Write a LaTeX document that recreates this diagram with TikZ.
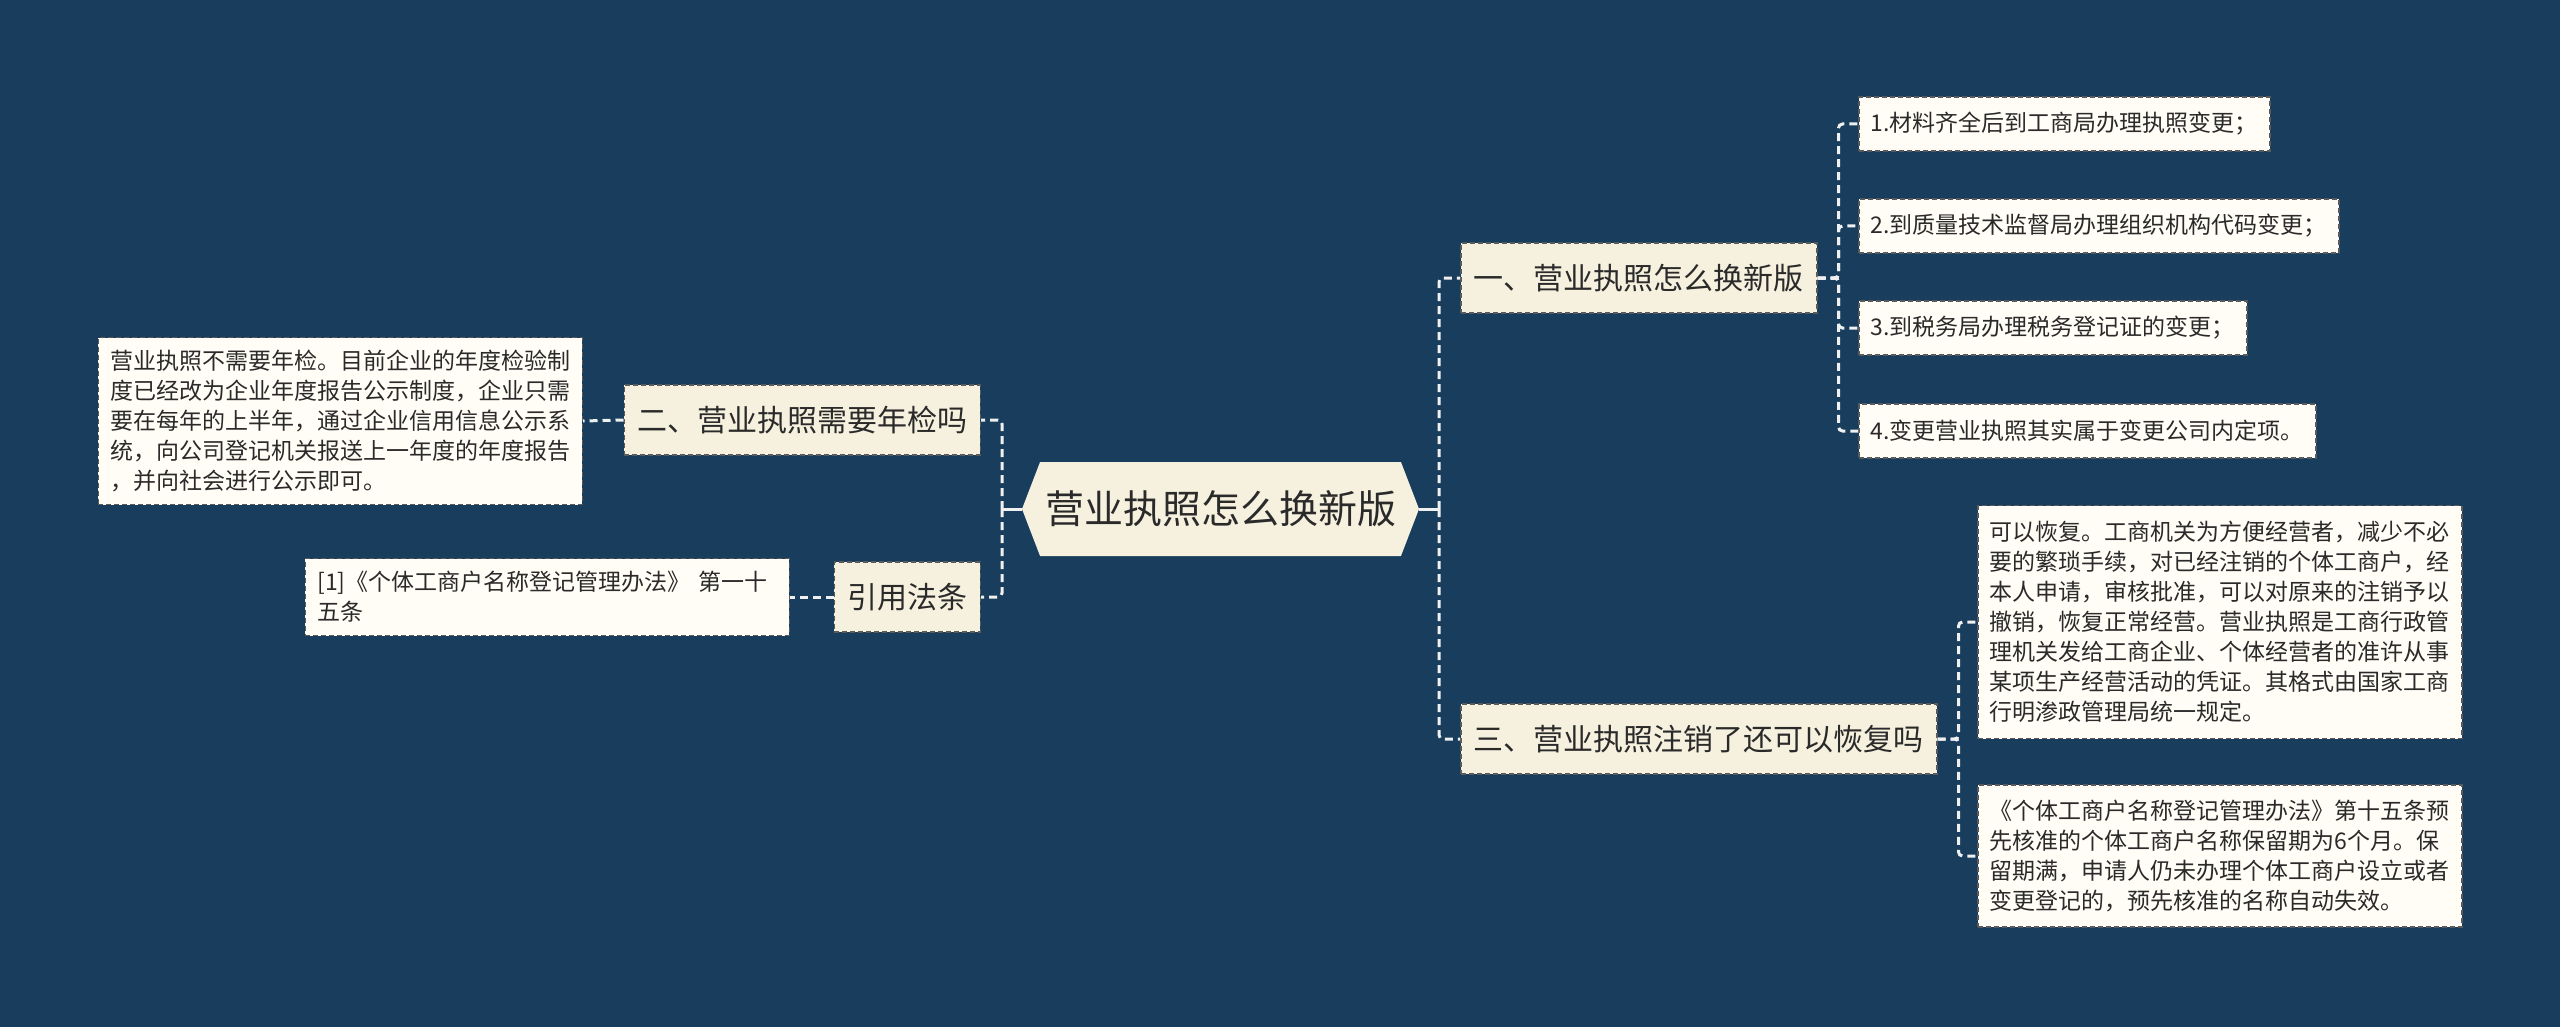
\documentclass[tikz,border=0pt]{standalone}
\usepackage{fontspec}
\setmainfont{Noto Sans CJK SC}
\usepackage{tikz}
\usetikzlibrary{shapes.symbols}
\definecolor{bgblue}{HTML}{183D5D}
\definecolor{cream}{HTML}{F6F1DE}
\definecolor{paper}{HTML}{FFFDF5}
\definecolor{inkgray}{HTML}{2A2A2A}
\definecolor{edgegray}{HTML}{5A5A5A}
\definecolor{linkwhite}{HTML}{F0F0F0}

\begin{document}
\begin{tikzpicture}[x=1pt, y=-1pt,
    rootbox/.style={shape=signal, signal to=west and east, signal pointer angle=138, fill=cream, text=inkgray, minimum width=397pt, minimum height=94pt, inner sep=0pt, font=\fontsize{39}{44}\selectfont},
    topicbox/.style={draw=edgegray, dash pattern=on 5pt off 3pt, line width=1.5pt, fill=cream, text=inkgray, minimum height=70pt, inner xsep=13pt, font=\fontsize{30}{36}\selectfont, anchor=west},
    leafbox/.style={draw=edgegray, dash pattern=on 5pt off 3pt, line width=1.5pt, fill=paper, text=inkgray, minimum height=54pt, inner xsep=12pt, font=\fontsize{23}{30}\selectfont, anchor=west},
    notebox/.style={leafbox, text width=460pt, align=left},
    link/.style={draw=linkwhite, line width=3pt, dash pattern=on 8pt off 5pt, rounded corners=4pt},
    rootlink/.style={draw=linkwhite, line width=3pt}]
    % Background
    \fill[bgblue] (0,0) rectangle (2560,1027);
    \useasboundingbox (0,0) rectangle (2560,1027);

    % Root
    \node[rootbox] (root) at (1220.5,509) {营业执照怎么换新版};
    \coordinate (rootL) at (1002,509);
    \coordinate (rootR) at (1439,509);

    % Left topics
    \node[topicbox, anchor=east] (check) at (981,420) {二、营业执照需要年检吗};
    \node[notebox, anchor=east, minimum height=167pt] (checknote) at (583,421) {营业执照不需要年检。目前企业的年度检验制\\度已经改为企业年度报告公示制度，企业只需\\要在每年的上半年，通过企业信用信息公示系\\统，向公司登记机关报送上一年度的年度报告\\，并向社会进行公示即可。};
    \node[topicbox, anchor=east] (law) at (981,597) {引用法条};
    \node[notebox, anchor=east, minimum height=77pt] (lawnote) at (790,597) {[1]《个体工商户名称登记管理办法》 第一十\\五条};

    % Right topics
    \node[topicbox] (renew) at (1460,278) {一、营业执照怎么换新版};
    \node[leafbox] (step1) at (1858,124) {1.材料齐全后到工商局办理执照变更；};
    \node[leafbox] (step2) at (1858,226) {2.到质量技术监督局办理组织机构代码变更；};
    \node[leafbox] (step3) at (1858,328) {3.到税务局办理税务登记证的变更；};
    \node[leafbox] (step4) at (1858,431) {4.变更营业执照其实属于变更公司内定项。};

    \node[topicbox] (cancel) at (1460,739) {三、营业执照注销了还可以恢复吗};
    \node[notebox, minimum height=233pt] (restore) at (1977,622) {可以恢复。工商机关为方便经营者，减少不必\\要的繁琐手续，对已经注销的个体工商户，经\\本人申请，审核批准，可以对原来的注销予以\\撤销，恢复正常经营。营业执照是工商行政管\\理机关发给工商企业、个体经营者的准许从事\\某项生产经营活动的凭证。其格式由国家工商\\行明渗政管理局统一规定。};
    \node[notebox, minimum height=142pt] (expire) at (1977,856) {《个体工商户名称登记管理办法》第十五条预\\先核准的个体工商户名称保留期为6个月。保\\留期满，申请人仍未办理个体工商户设立或者\\变更登记的，预先核准的名称自动失效。};

    % Links
    \draw[rootlink] (root.west) -- (rootL);
    \draw[rootlink] (root.east) -- (rootR);
    \draw[link] (rootL) |- (check.east);
    \draw[link] (rootL) |- (law.east);
    \draw[link] (rootR) |- (renew.west);
    \draw[link] (rootR) |- (cancel.west);
    \foreach \s in {step1,step2,step3,step4}
        \draw[link] (renew.east) -- ++(21,0) |- (\s.west);
    \draw[link] (cancel.east) -- ++(21,0) |- (restore.west);
    \draw[link] (cancel.east) -- ++(21,0) |- (expire.west);
    \draw[link] (check.west) -- (checknote.east);
    \draw[link] (law.west) -- (lawnote.east);
\end{tikzpicture}
\end{document}
